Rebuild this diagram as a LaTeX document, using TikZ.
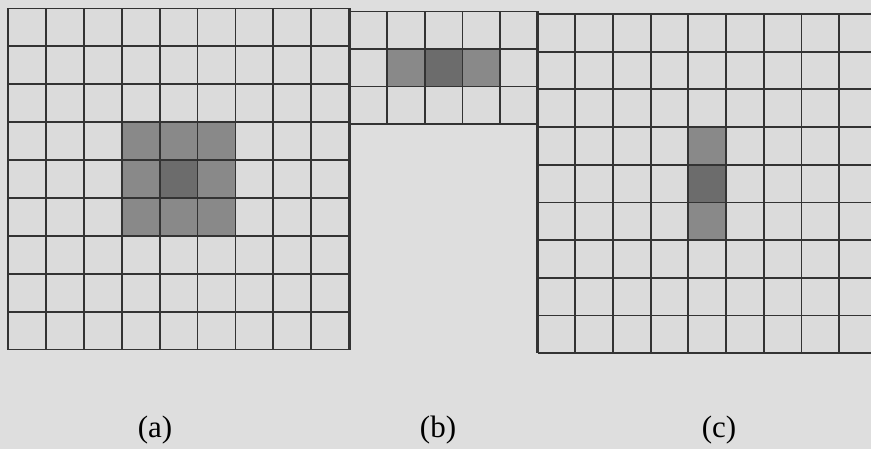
\documentclass[tikz,border=0pt]{standalone}
\usepackage{fontspec}
\setmainfont{Liberation Serif}
\definecolor{bgc}{HTML}{DEDEDE}
\definecolor{cellc}{HTML}{DBDBDB}
\definecolor{shadec}{HTML}{898989}
\definecolor{darkc}{HTML}{6C6C6C}
\definecolor{linec}{HTML}{333333}
\tikzset{
  gridline/.style={draw=linec, line width=1.8pt},
  edgeline/.style={draw=linec, line width=2.8pt},
  lightcell/.style={fill=shadec},
  darkcell/.style={fill=darkc},
  caption/.style={font=\fontsize{31}{31}\selectfont, anchor=base, inner sep=0pt}
}
% #1 left, #2 top, #3 cell width, #4 cell height, #5 cols, #6 rows
\newcommand\drawmygrid[6]{%
  \fill[cellc] (#1,#2) rectangle ({#1+#5*#3},{#2+#6*#4});
}
\newcommand\mygridlines[6]{%
  \foreach \i in {0,...,#5} {\draw[gridline] ({#1+\i*#3},#2) -- ({#1+\i*#3},{#2+#6*#4});}
  \foreach \j in {0,...,#6} {\draw[gridline] (#1,{#2+\j*#4}) -- ({#1+#5*#3},{#2+\j*#4});}
}
\newcommand\mycell[7]{% #1 style, #2 left, #3 top, #4 w, #5 h, #6 col, #7 row
  \fill[#1] ({#2+#6*#4},{#3+#7*#5}) rectangle ({#2+(#6+1)*#4},{#3+(#7+1)*#5});
}
\begin{document}
\begin{tikzpicture}[x=1pt,y=-1pt]
\useasboundingbox (0,0) rectangle (871,449);
\fill[bgc] (0,0) rectangle (871,449);
% grid (a)
\drawmygrid{8}{8.5}{37.9}{37.9}{9}{9}
\foreach \c/\r in {3/3,4/3,5/3,3/4,5/4,3/5,4/5,5/5} {\mycell{lightcell}{8}{8.5}{37.9}{37.9}{\c}{\r}}
\mycell{darkcell}{8}{8.5}{37.9}{37.9}{4}{4}
\mygridlines{8}{8.5}{37.9}{37.9}{9}{9}
% grid (b)
\drawmygrid{349.1}{11.5}{37.8}{37.5}{5}{3}
\foreach \c in {1,3} {\mycell{lightcell}{349.1}{11.5}{37.8}{37.5}{\c}{1}}
\mycell{darkcell}{349.1}{11.5}{37.8}{37.5}{2}{1}
\mygridlines{349.1}{11.5}{37.8}{37.5}{5}{3}
% grid (c)
\drawmygrid{537.5}{14}{37.7}{37.7}{9}{9}
\foreach \r in {3,5} {\mycell{lightcell}{537.5}{14}{37.7}{37.7}{4}{\r}}
\mycell{darkcell}{537.5}{14}{37.7}{37.7}{4}{4}
\mygridlines{537.5}{14}{37.7}{37.7}{9}{9}
% thicker shared edges
\draw[edgeline] (349.1,8.5) -- (349.1,349.6);
\draw[edgeline] (537.5,12) -- (537.5,353.3);
% captions
\node[caption] (la) at (155,437.5) {(a)};
\node[caption] (lb) at (438,437.5) {(b)};
\node[caption] (lc) at (719,437.5) {(c)};
\end{tikzpicture}
\end{document}
